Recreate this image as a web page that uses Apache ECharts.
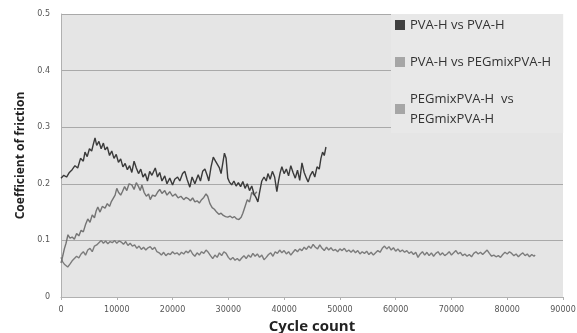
<!DOCTYPE html>
<html>
<head>
<meta charset="utf-8">
<script src="https://cdn.jsdelivr.net/npm/echarts@6/dist/echarts.min.js"></script>
<style>
  html, body { margin: 0; padding: 0; background: #fff; }
  #chart { width: 577px; height: 333px; }
</style>
</head>
<body>
<div id="chart"></div>
<script>
// legend names
const seriesNames = ['PVA-H vs PVA-H', 'PVA-H vs PEGmixPVA-H', 'PEGmixPVA-H  vs PEGmixPVA-H'];

// [cycle count, coefficient of friction]
const pvaPva = [
  [0,0.210],[500,0.215],[1000,0.212],[1500,0.220],[2000,0.225],[2500,0.232],[3000,0.228],[3500,0.245],[4000,0.240],
  [4300,0.256],[4700,0.248],[5100,0.262],[5500,0.258],[5800,0.270],[6100,0.281],[6400,0.268],[6800,0.275],[7200,0.262],
  [7600,0.272],[7900,0.260],[8300,0.265],[8700,0.250],[9100,0.258],[9500,0.245],[9900,0.252],[10300,0.238],[10700,0.244],
  [11100,0.230],[11500,0.236],[11900,0.225],[12300,0.232],[12700,0.220],[13100,0.240],[13500,0.228],[13900,0.218],
  [14300,0.226],[14700,0.212],[15100,0.218],[15500,0.205],[15900,0.222],[16300,0.215],[16900,0.228],[17300,0.212],
  [17700,0.220],[18100,0.205],[18600,0.214],[19000,0.200],[19500,0.210],[20000,0.198],[20400,0.208],[20900,0.212],
  [21300,0.205],[21800,0.218],[22200,0.222],[22600,0.208],[23100,0.194],[23500,0.212],[24000,0.200],[24600,0.216],
  [25000,0.205],[25400,0.222],[25800,0.226],[26200,0.215],[26500,0.205],[26900,0.230],[27300,0.247],[27700,0.240],
  [28000,0.238],[28400,0.228],[28700,0.218],[29000,0.236],[29300,0.254],[29600,0.245],[29900,0.210],[30200,0.203],
  [30600,0.198],[31000,0.205],[31400,0.196],[31800,0.202],[32200,0.195],[32600,0.204],[33000,0.192],[33400,0.200],
  [33800,0.188],[34200,0.196],[34600,0.182],[35000,0.175],[35300,0.168],[35600,0.185],[36000,0.205],[36400,0.212],
  [36800,0.205],[37100,0.218],[37500,0.208],[37900,0.222],[38300,0.212],[38700,0.186],[39000,0.205],[39300,0.220],
  [39600,0.230],[40000,0.218],[40400,0.226],[40800,0.214],[41200,0.232],[41600,0.220],[42000,0.210],[42400,0.224],
  [42800,0.206],[43200,0.237],[43600,0.220],[44000,0.210],[44300,0.203],[44700,0.215],[45100,0.222],[45500,0.212],
  [45900,0.230],[46300,0.226],[46600,0.245],[46900,0.256],[47200,0.250],[47500,0.265]
];

const pvaPeg = [
  [0,0.060],[300,0.072],[600,0.085],[900,0.095],[1250,0.110],[1600,0.104],[2000,0.106],[2400,0.102],[2800,0.112],
  [3200,0.108],[3600,0.118],[4000,0.115],[4400,0.128],[4800,0.138],[5200,0.132],[5600,0.145],[6000,0.140],[6300,0.152],
  [6600,0.159],[7000,0.150],[7400,0.160],[7900,0.157],[8300,0.165],[8700,0.160],[9000,0.168],[9300,0.171],[9700,0.180],
  [10000,0.192],[10300,0.185],[10700,0.180],[11000,0.186],[11400,0.195],[11800,0.188],[12200,0.200],[12700,0.198],
  [13100,0.190],[13500,0.202],[13900,0.195],[14200,0.188],[14500,0.198],[14900,0.185],[15300,0.178],[15700,0.182],
  [16000,0.172],[16400,0.180],[16900,0.178],[17300,0.185],[17700,0.190],[18100,0.183],[18600,0.188],[19000,0.180],
  [19500,0.186],[20000,0.178],[20500,0.182],[21000,0.175],[21500,0.178],[22000,0.172],[22400,0.176],[22800,0.174],
  [23200,0.170],[23600,0.175],[24000,0.168],[24400,0.170],[24800,0.166],[25200,0.172],[25600,0.176],[26000,0.182],
  [26300,0.178],[26700,0.165],[27100,0.158],[27500,0.155],[27900,0.150],[28300,0.146],[28700,0.148],[29100,0.144],
  [29500,0.142],[29900,0.141],[30300,0.143],[30700,0.140],[31100,0.142],[31500,0.138],[31900,0.137],[32300,0.141],
  [32600,0.148],[33000,0.160],[33400,0.172],[33800,0.168],[34200,0.185],[34600,0.180],[35100,0.186]
];

const pegPeg = [
  [0,0.070],[300,0.062],[600,0.058],[900,0.055],[1200,0.053],[1600,0.058],[2000,0.064],[2400,0.068],[2800,0.072],
  [3200,0.069],[3600,0.076],[4000,0.080],[4400,0.074],[4800,0.083],[5200,0.086],[5600,0.080],[6000,0.090],[6400,0.092],
  [6800,0.096],[7200,0.100],[7600,0.095],[8000,0.099],[8400,0.094],[8800,0.098],[9200,0.096],[9600,0.100],[10000,0.095],
  [10400,0.099],[10800,0.097],[11200,0.093],[11600,0.098],[12000,0.091],[12400,0.095],[12800,0.090],[13200,0.092],
  [13600,0.086],[14000,0.090],[14400,0.084],[14800,0.088],[15200,0.083],[15600,0.087],[16000,0.089],[16400,0.084],
  [16800,0.088],[17200,0.080],[17600,0.078],[18000,0.074],[18400,0.079],[18800,0.073],[19200,0.077],[19600,0.075],
  [20000,0.080],[20400,0.076],[20800,0.078],[21200,0.074],[21600,0.079],[22000,0.076],[22400,0.081],[22800,0.078],
  [23200,0.083],[23600,0.076],[24000,0.072],[24400,0.078],[24800,0.074],[25200,0.080],[25600,0.077],[26000,0.083],
  [26400,0.079],[26800,0.073],[27200,0.068],[27600,0.074],[28000,0.070],[28400,0.078],[28800,0.073],[29200,0.080],
  [29600,0.077],[30000,0.070],[30400,0.066],[30800,0.070],[31200,0.065],[31600,0.068],[32000,0.064],[32400,0.069],
  [32800,0.073],[33200,0.068],[33600,0.074],[34000,0.070],[34400,0.077],[34800,0.072],[35200,0.076],[35600,0.070],
  [36000,0.074],[36400,0.066],[36800,0.070],[37200,0.075],[37600,0.078],[38000,0.072],[38400,0.080],[38800,0.077],
  [39200,0.083],[39600,0.078],[40000,0.082],[40400,0.076],[40800,0.080],[41200,0.074],[41600,0.079],[42000,0.084],
  [42400,0.080],[42800,0.085],[43200,0.082],[43600,0.088],[44000,0.084],[44400,0.090],[44800,0.086],[45200,0.093],
  [45600,0.088],[46000,0.085],[46400,0.092],[46800,0.086],[47200,0.082],[47600,0.088],[48000,0.083],[48400,0.087],
  [48800,0.082],[49200,0.084],[49600,0.080],[50000,0.085],[50400,0.082],[50800,0.086],[51200,0.080],[51600,0.083],
  [52000,0.079],[52400,0.083],[52800,0.078],[53200,0.082],[53600,0.076],[54000,0.080],[54400,0.077],[54800,0.081],
  [55200,0.075],[55600,0.079],[56000,0.074],[56400,0.078],[56800,0.082],[57200,0.079],[57600,0.086],[58000,0.090],
  [58400,0.085],[58800,0.089],[59200,0.083],[59600,0.087],[60000,0.081],[60400,0.085],[60800,0.080],[61200,0.083],
  [61600,0.079],[62000,0.082],[62400,0.077],[62800,0.080],[63200,0.075],[63600,0.079],[64000,0.070],[64400,0.076],
  [64800,0.080],[65200,0.074],[65600,0.079],[66000,0.073],[66400,0.078],[66800,0.072],[67200,0.077],[67600,0.080],
  [68000,0.074],[68400,0.078],[68800,0.073],[69200,0.076],[69600,0.080],[70000,0.074],[70400,0.078],[70800,0.082],
  [71200,0.076],[71600,0.079],[72000,0.073],[72400,0.076],[72800,0.072],[73200,0.075],[73600,0.071],[74000,0.077],
  [74400,0.080],[74800,0.076],[75200,0.079],[75600,0.075],[76000,0.079],[76400,0.083],[76800,0.077],[77200,0.072],
  [77600,0.074],[78000,0.071],[78400,0.073],[78800,0.070],[79200,0.075],[79600,0.079],[80000,0.076],[80400,0.080],
  [80800,0.077],[81200,0.073],[81600,0.076],[82000,0.071],[82400,0.075],[82800,0.078],[83200,0.073],[83600,0.076],
  [84000,0.071],[84400,0.075],[84800,0.072],[85000,0.074]
];

const lineColors = ['#3a3a3a', '#747474', '#7c7c7c'];
const legendColors = ['#404040', '#a6a6a6', '#a6a6a6'];

const chart = echarts.init(document.getElementById('chart'), null, { renderer: 'canvas' });

const option = {
    animation: false,
    backgroundColor: '#ffffff',
    grid: {
        left: 61, right: 14, top: 14, bottom: 36,
        outerBoundsMode: 'none',
        show: true, backgroundColor: '#e5e5e5', borderWidth: 0
    },
    legend: {
        orient: 'vertical',
        left: 391, top: 14,
        padding: [1, 12, 4, 4],
        backgroundColor: '#e8e8e8',
        itemWidth: 10, itemHeight: 10, itemGap: 17,
        icon: 'rect',
        textStyle: { fontFamily: 'Open Sans', fontSize: 13, color: '#333', lineHeight: 20 },
        formatter: (name) => name === seriesNames[2] ? 'PEGmixPVA-H  vs\nPEGmixPVA-H' : name,
        data: seriesNames.map((n, i) => ({ name: n, itemStyle: { color: legendColors[i] } }))
    },
    xAxis: {
        type: 'value', min: 0, max: 90000, interval: 10000,
        name: 'Cycle count', nameLocation: 'middle', nameGap: 19,
        nameTextStyle: { fontFamily: 'Open Sans', fontWeight: 'bold', fontSize: 15, color: '#222' },
        axisLine: { show: true, lineStyle: { color: '#b0b0b0' } },
        axisTick: { show: true, length: 3, lineStyle: { color: '#b0b0b0' } },
        axisLabel: { fontFamily: 'DejaVu Sans', fontSize: 8, color: '#555', margin: 9, formatter: (v) => String(v) },
        splitLine: { show: false }
    },
    yAxis: {
        type: 'value', min: 0, max: 0.5, interval: 0.1,
        name: 'Coefficient of friction', nameLocation: 'middle', nameGap: 34,
        nameTextStyle: { fontFamily: 'Open Sans', fontWeight: 'bold', fontSize: 12, color: '#222' },
        axisLine: { show: true, lineStyle: { color: '#b0b0b0' } },
        axisTick: { show: false },
        axisLabel: { fontFamily: 'DejaVu Sans', fontSize: 8, color: '#555', margin: 11 },
        splitLine: { show: true, lineStyle: { color: '#a9a9a9', width: 1 } }
    },
    series: [pvaPva, pvaPeg, pegPeg].map((d, i) => ({
        name: seriesNames[i],
        type: 'line',
        data: d,
        showSymbol: false,
        lineStyle: { color: lineColors[i], width: 1.4 },
        itemStyle: { color: lineColors[i] },
        z: 3 - i
    }))
};

chart.setOption(option);
</script>
</body>
</html>
